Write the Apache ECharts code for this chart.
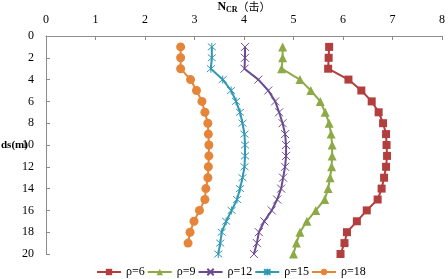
<!DOCTYPE html>
<html>
<head>
    <meta charset="utf-8">
    <script src="https://cdn.jsdelivr.net/npm/echarts@6/dist/echarts.min.js"></script>
    <style>
        html, body { margin: 0; padding: 0; background: #fff; }
        #main { width: 448px; height: 279px; }
    </style>
</head>
<body>
    <div id="main"></div>
    <script>
        // 深度 ds(m)
        var depths = [1, 2, 3, 4, 5, 6, 7, 8, 9, 10, 11, 12, 13, 14, 15, 16, 17, 18, 19, 20];
        var seriesNames = ['ρ=6', 'ρ=9', 'ρ=12', 'ρ=15', 'ρ=18'];
        // N_CR 值
        var rho6 = [5.72, 5.71, 5.70, 6.11, 6.37, 6.58, 6.72, 6.81, 6.87, 6.88, 6.89, 6.87, 6.83, 6.78, 6.70, 6.48, 6.28, 6.08, 6.03, 5.95];
        var rho9 = [4.78, 4.78, 4.76, 5.13, 5.35, 5.54, 5.64, 5.72, 5.76, 5.78, 5.78, 5.77, 5.74, 5.70, 5.63, 5.45, 5.27, 5.13, 5.06, 5.00];
        var rho12 = [4.02, 4.02, 4.01, 4.29, 4.49, 4.63, 4.71, 4.78, 4.83, 4.85, 4.85, 4.83, 4.79, 4.75, 4.67, 4.56, 4.41, 4.30, 4.26, 4.20];
        var rho15 = [3.35, 3.35, 3.33, 3.57, 3.74, 3.84, 3.92, 3.97, 4.01, 4.02, 4.02, 4.01, 3.97, 3.92, 3.86, 3.75, 3.64, 3.55, 3.52, 3.48];
        var rho18 = [2.72, 2.72, 2.72, 2.92, 3.04, 3.15, 3.21, 3.27, 3.28, 3.29, 3.29, 3.28, 3.27, 3.23, 3.21, 3.10, 2.99, 2.91, 2.87];

        var colors = ['#B23E3E', '#8DAA47', '#6A4B92', '#3198B3', '#E5853A'];
        var symbols = [
            'rect',
            'triangle',
            'path://M0,0L10,10M10,0L0,10',
            'path://M0,0L10,10M10,0L0,10M5,-1L5,11',
            'circle'
        ];
        var sizes = [8, 9, 8, 8, 9];
        var allValues = [rho6, rho9, rho12, rho15, rho18];

        function pairs(vals) {
            return vals.map(function (v, i) { return [v, depths[i]]; });
        }

        var serif = 'Liberation Serif';
        var series = allValues.map(function (vals, k) {
            var stroked = k === 2 || k === 3;
            return {
                name: seriesNames[k],
                type: 'line',
                data: pairs(vals),
                symbol: symbols[k],
                symbolSize: sizes[k],
                showAllSymbol: true,
                lineStyle: { color: colors[k], width: 2 },
                itemStyle: stroked ? {
                    color: colors[k],
                    borderColor: colors[k],
                    borderWidth: 1
                } : { color: colors[k], borderWidth: 0 }
            };
        });

        var myChart = echarts.init(document.getElementById('main'));
        var option = {
            animation: false,
            color: colors,
            grid: { left: 46, right: 6, top: 36, bottom: 25, outerBoundsMode: 'none', containLabel: false },
            legend: {
                bottom: 1,
                left: 96,
                padding: 0,
                itemWidth: 24,
                itemHeight: 8,
                itemGap: 2,
                textStyle: { fontFamily: serif, fontSize: 12, color: '#000' },
                data: seriesNames
            },
            xAxis: {
                type: 'value',
                position: 'top',
                min: 0,
                max: 8,
                interval: 1,
                name: '{n|N}{s|CR}{c|（击）}',
                nameLocation: 'middle',
                nameGap: 22,
                nameMoveOverlap: false,
                nameTextStyle: {
                    rich: {
                        n: { fontFamily: serif, fontWeight: 'bold', fontSize: 12, color: '#000' },
                        s: { fontFamily: serif, fontWeight: 'bold', fontSize: 8, color: '#000', padding: [6, 0, 0, 0] },
                        c: { fontFamily: 'Noto Sans CJK SC', fontSize: 11, color: '#000' }
                    }
                },
                axisLine: { show: true, lineStyle: { color: '#8c8c8c' } },
                axisTick: { show: true, inside: true, length: 4, lineStyle: { color: '#8c8c8c' } },
                axisLabel: { fontFamily: serif, fontSize: 12, color: '#000', margin: 10 },
                splitLine: { show: false }
            },
            yAxis: {
                type: 'value',
                inverse: true,
                min: 0,
                max: 20,
                interval: 2,
                name: 'ds(m)',
                nameLocation: 'middle',
                nameRotate: 0,
                nameGap: 45,
                nameMoveOverlap: false,
                nameTextStyle: { fontFamily: serif, fontWeight: 'bold', fontSize: 11, color: '#000', align: 'left' },
                axisLine: { show: true, lineStyle: { color: '#8c8c8c' } },
                axisTick: { show: true, inside: true, length: 4, lineStyle: { color: '#8c8c8c' } },
                axisLabel: { fontFamily: serif, fontSize: 12, color: '#000', margin: 12 },
                splitLine: { show: false }
            },
            series: series
        };
        myChart.setOption(option);
    </script>
</body>
</html>
